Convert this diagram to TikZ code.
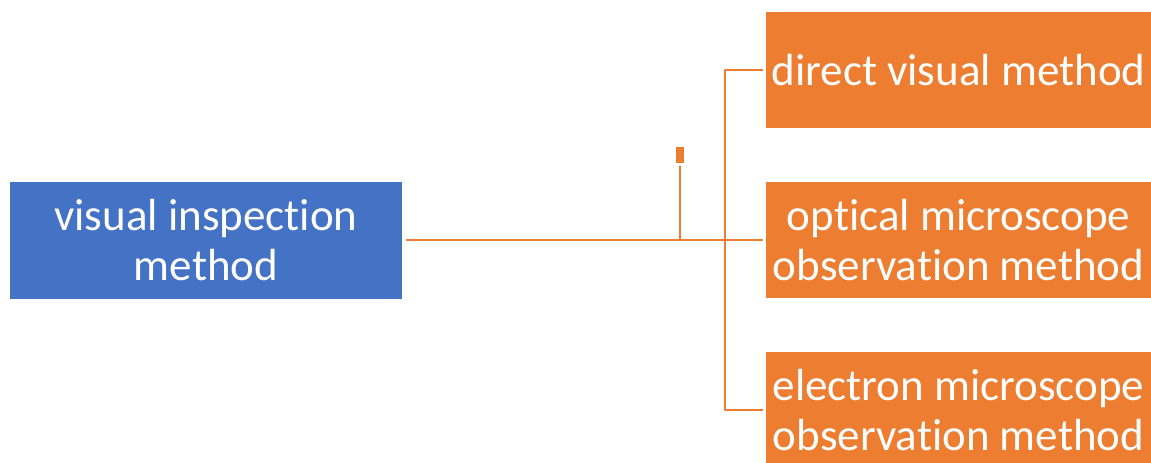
\documentclass[tikz,border=0pt]{standalone}
\usepackage{fontspec}
\setmainfont{Carlito}[Ligatures=NoCommon]
\definecolor{boxblue}{HTML}{4472C4}
\definecolor{boxorange}{HTML}{ED7D31}
\begin{document}
\begin{tikzpicture}[x=1pt,y=-1pt,
  boxbase/.style={rectangle,inner sep=0pt,text=white,align=center,
    font=\fontsize{45}{50}\selectfont},
  mainbox/.style={boxbase,fill=boxblue,minimum width=392pt,minimum height=117pt},
  subbox/.style={boxbase,fill=boxorange,minimum width=385pt,minimum height=116pt},
  conn/.style={draw=boxorange,line width=2.4pt}]
\useasboundingbox (0,0) rectangle (1151,463);
\clip (0,0) rectangle (1151,463);
\node[mainbox] (main) at (206,240) {visual inspection\\method};
\node[subbox] (direct) at (958.5,70) {direct visual method};
\node[subbox] (optical) at (958.5,240) {optical microscope\\observation method};
\node[subbox] (elec) at (958.5,410) {electron microscope\\observation method};
\coordinate (j) at (725,240);
\coordinate (t) at (680,240);
\coordinate (ttop) at (680,166);
\node[fill=boxorange,minimum width=8pt,minimum height=16pt,inner sep=0pt] (tickbox) at (680,155) {};
\draw[conn,shorten <=4pt,shorten >=3pt] (main.east) -- (optical.west);
\draw[conn,shorten <=3pt,shorten >=3pt] (direct.west) -| (j) |- (elec.west);
\draw[conn] (t) -- (ttop);
\end{tikzpicture}
\end{document}
